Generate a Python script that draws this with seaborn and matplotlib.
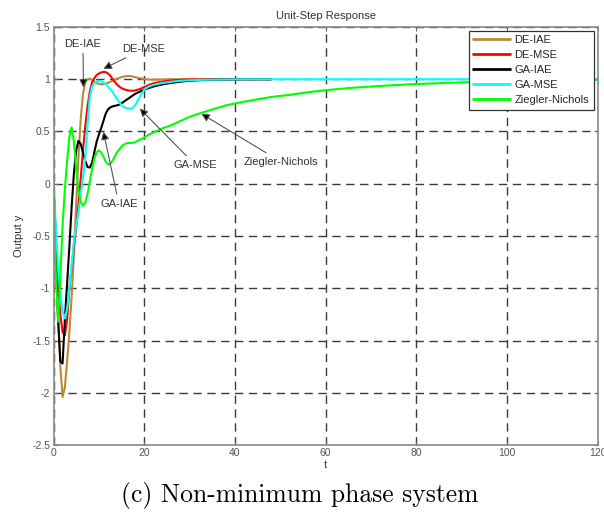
import matplotlib
matplotlib.use("Agg")
import matplotlib.pyplot as plt
import seaborn as sns

# ---- time grids -------------------------------------------------------
t_fast = [0, 0.5, 1, 1.5, 2, 2.5, 3, 3.5, 4, 4.5, 5, 5.5, 6, 6.5, 7, 7.5, 8, 8.5,
          9, 9.5, 10, 10.5, 11, 11.5, 12, 12.5, 13, 13.5, 14, 14.5, 15, 15.5, 16,
          16.5, 17, 17.5, 18, 19, 20, 21, 22, 23, 24, 26, 28, 30, 32, 35, 38, 42, 48]
t_tail = [52, 56, 60, 65, 70, 75, 80, 85, 90, 95, 100, 105, 110, 115, 120]

# ---- step responses ---------------------------------------------------
y_de_iae = [0, -0.55, -1.2, -1.75, -2.04, -1.95, -1.7, -1.42, -1.08, -0.68, -0.2,
            0.25, 0.62, 0.86, 0.97, 1.0, 1.005, 0.995, 0.98, 0.965, 0.955, 0.952,
            0.953, 0.958, 0.965, 0.975, 0.985, 0.995, 1.005, 1.013, 1.02, 1.026,
            1.03, 1.031, 1.03, 1.026, 1.02, 1.01, 1.002, 0.997, 0.996, 0.997,
            0.998, 1.0, 1.0, 1.0, 1.0, 1.0, 1.0, 1.0, 1.0]
y_de_mse = [0, -0.5, -0.95, -1.25, -1.42, -1.45, -1.3, -1.0, -0.8, -0.6, -0.42,
            -0.2, 0.05, 0.32, 0.55, 0.74, 0.88, 0.97, 1.01, 1.04, 1.055, 1.065,
            1.07, 1.068, 1.055, 1.035, 1.005, 0.975, 0.95, 0.93, 0.915, 0.905,
            0.898, 0.892, 0.89, 0.89, 0.893, 0.905, 0.925, 0.945, 0.96, 0.97,
            0.978, 0.988, 0.994, 0.997, 0.998, 1.0, 1.0, 1.0, 1.0]
y_ga_iae = [0, -0.7, -1.3, -1.7, -1.72, -1.3, -0.95, -0.6, -0.22, 0.1, 0.32, 0.41,
            0.38, 0.3, 0.22, 0.16, 0.155, 0.2, 0.3, 0.4, 0.47, 0.53, 0.6, 0.67,
            0.71, 0.73, 0.74, 0.745, 0.75, 0.757, 0.77, 0.785, 0.8, 0.815, 0.83,
            0.845, 0.86, 0.88, 0.9, 0.915, 0.93, 0.94, 0.95, 0.965, 0.977, 0.985,
            0.99, 0.995, 0.998, 1.0, 1.0]
y_ga_mse = [0, -0.4, -0.8, -1.05, -1.22, -1.29, -1.2, -1.0, -0.78, -0.55, -0.4,
            -0.28, -0.1, 0.05, 0.25, 0.56, 0.83, 0.93, 0.965, 0.98, 0.985, 0.98,
            0.97, 0.955, 0.93, 0.905, 0.88, 0.845, 0.81, 0.78, 0.75, 0.735, 0.725,
            0.72, 0.72, 0.725, 0.75, 0.83, 0.9, 0.93, 0.945, 0.955, 0.963, 0.976,
            0.985, 0.99, 0.993, 0.996, 0.998, 1.0, 1.0]
y_ga_mse_tail = [1.0] * 15
y_zn = [0, -0.85, -1.32, -0.9, -0.4, -0.05, 0.22, 0.45, 0.54, 0.4, 0.15, -0.07,
        -0.17, -0.21, -0.18, -0.1, 0.02, 0.14, 0.24, 0.3, 0.32, 0.3, 0.26, 0.21,
        0.185, 0.19, 0.22, 0.26, 0.3, 0.33, 0.355, 0.375, 0.385, 0.39, 0.39,
        0.392, 0.398, 0.42, 0.44, 0.47, 0.49, 0.51, 0.53, 0.56, 0.6, 0.64, 0.67,
        0.71, 0.75, 0.785, 0.83]
y_zn_tail = [0.85, 0.875, 0.895, 0.915, 0.93, 0.943, 0.954, 0.962, 0.97, 0.977,
             0.982, 0.986, 0.99, 0.993, 0.995]

labels = ["DE-IAE", "DE-MSE", "GA-IAE", "GA-MSE", "Ziegler-Nichols"]
colors = ["#BB8A35", "#FF0000", "#000000", "#00FFFF", "#00FF00"]

x_ticks = [0, 20, 40, 60, 80, 100, 120]
y_ticks = [-2.5, -2, -1.5, -1, -0.5, 0, 0.5, 1, 1.5]
y_tick_labels = ["-2.5", "-2", "-1.5", "-1", "-0.5", "0", "0.5", "1", "1.5"]

# ---- styling ------------------------------------------------------------
sns.set_style("white")
plt.rcParams["font.family"] = ["Liberation Sans", "DejaVu Sans"]
plt.rcParams["axes.unicode_minus"] = False

fig = plt.figure(figsize=(6.04, 5.22), dpi=100)
ax = fig.add_axes([0.0886, 0.1475, 0.9007, 0.8008])

series = [
    (t_fast, y_de_iae),
    (t_fast, y_de_mse),
    (t_fast, y_ga_iae),
    (t_fast + t_tail, y_ga_mse + y_ga_mse_tail),
    (t_fast + t_tail, y_zn + y_zn_tail),
]
for (tt, yy), lab, col in zip(series, labels, colors):
    sns.lineplot(x=tt, y=yy, ax=ax, color=col, lw=1.5, label=lab,
                 estimator=None, sort=False)

ax.set_xlim(0, 120)
ax.set_ylim(-2.5, 1.5)
ax.set_xticks(x_ticks)
ax.set_yticks(y_ticks)
ax.set_yticklabels(y_tick_labels)

ax.grid(True, color="#3a3a3a", linestyle=(0, (6, 4)), lw=1.0)
for sp in ax.spines.values():
    sp.set_color("#8a8a8a")
    sp.set_linewidth(1.2)
ax.tick_params(direction="in", length=3, width=0.8, color="#666666",
               labelsize=7.5, labelcolor="#555555", pad=2.5,
               top=True, right=True, bottom=True, left=True)

ax.set_title("Unit-Step Response", fontsize=8, color="#333333", pad=6)
ax.set_xlabel("t", fontsize=8, color="#333333", labelpad=1)
ax.set_ylabel("Output y", fontsize=8, color="#333333", labelpad=6)

leg = ax.legend(loc="upper right", fontsize=8, handlelength=3.3,
                borderaxespad=0.35, labelspacing=0.45, handletextpad=0.4,
                fancybox=False, framealpha=1, edgecolor="#333333",
                borderpad=0.4)
leg.get_frame().set_linewidth(0.9)
for ln in leg.get_lines():
    ln.set_linewidth(2.0)

# ---- curve annotations --------------------------------------------------
arrow = dict(arrowstyle="-|>", ec="#555555", fc="black", lw=0.8,
             mutation_scale=12, shrinkA=1, shrinkB=0)
notes = [
    ("DE-IAE", (6.6, 0.92), (6.5, 1.34)),
    ("DE-MSE", (11.0, 1.10), (19.9, 1.29)),
    ("GA-IAE", (11.0, 0.50), (14.4, -0.19)),
    ("GA-MSE", (19.0, 0.72), (31.3, 0.18)),
    ("Ziegler-Nichols", (32.6, 0.67), (50.2, 0.21)),
]
for txt, xy, xytext in notes:
    ax.annotate(txt, xy=xy, xytext=xytext, fontsize=8, color="#333333",
                ha="center", va="center", arrowprops=arrow)

fig.text(0.497, 0.051, "(c) Non-minimum phase system", ha="center", va="center",
         fontsize=18.4, family="cmr10", color="black")

fig.savefig("out.png", dpi=100)
